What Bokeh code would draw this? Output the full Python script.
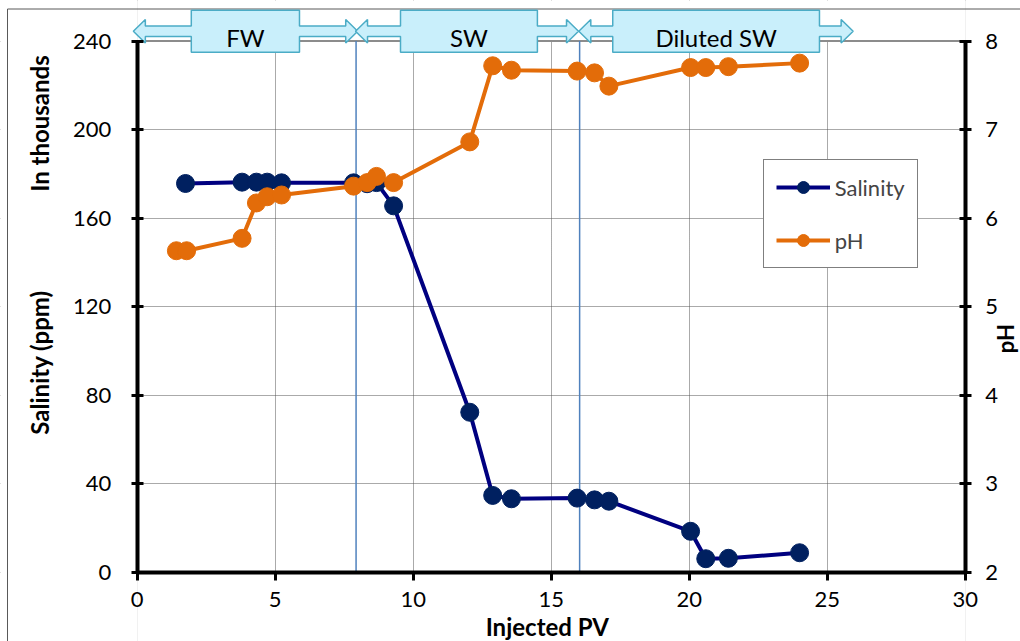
import math
from bokeh.plotting import figure
from bokeh.models import Range1d, LinearAxis, FixedTicker
from bokeh.embed import file_html
from bokeh.resources import INLINE
from bokeh.core.properties import value

# ---------------- data ----------------
pv_salinity = [1.75, 3.80, 4.32, 4.71, 5.23, 7.84, 8.33, 8.67, 9.29, 12.05, 12.88,
               13.56, 15.94, 16.57, 17.09, 20.05, 20.60, 21.42, 24.00]
salinity_k = [175.6, 176.2, 176.2, 176.2, 175.9, 175.9, 175.5, 176.0, 165.5, 72.2, 34.6,
              33.1, 33.4, 32.6, 32.0, 18.4, 6.0, 6.2, 8.7]
pv_ph = [1.42, 1.79, 3.80, 4.32, 4.71, 5.23, 7.84, 8.33, 8.67, 9.29, 12.05, 12.88,
         13.56, 15.94, 16.57, 17.09, 20.05, 20.60, 21.42, 24.00]
ph = [5.63, 5.63, 5.77, 6.17, 6.24, 6.26, 6.36, 6.40, 6.47, 6.40, 6.86, 7.72,
      7.67, 7.66, 7.64, 7.49, 7.70, 7.70, 7.71, 7.75]

phases = ["FW", "SW", "Diluted SW"]
phase_start = [-0.14, 7.91, 16.00]
phase_end = [7.99, 15.99, 25.94]
box_left = [1.96, 9.54, 17.23]
box_right = [5.88, 14.50, 24.72]
boundaries = [7.93, 16.03]

x_ticks = [0, 5, 10, 15, 20, 25, 30]
sal_ticks = [0, 40, 80, 120, 160, 200, 240]
ph_ticks = [2, 3, 4, 5, 6, 7, 8]

# ---------------- layout / styles ----------------
W, H = 1020, 641
X0_PX, X_PER = 136.7, 27.6          # screen x of PV=0, px per PV unit
Y0_PX, Y_PER = 571.5, 2.2125        # screen y of salinity 0, px per salinity unit
x_lo = -X0_PX / X_PER
x_hi = x_lo + W / X_PER
y_hi = Y0_PX / Y_PER
y_lo = y_hi - H / Y_PER
PH_PER = 40.0                       # salinity units per pH unit (2..8 <-> 0..240)

FONT = "Lato"
NAVY_LINE = "#000080"
NAVY_MARK = "#002060"
ORANGE = "#E36C09"
ARROW_FILL = "#C9EFFB"
ARROW_LINE = "#4BACC6"

p = figure(width=W, height=H, x_range=Range1d(x_lo, x_hi), y_range=Range1d(y_lo, y_hi),
           output_backend="svg", toolbar_location=None, x_axis_location=None,
           y_axis_location=None, min_border=0)
p.min_border_left = p.min_border_right = p.min_border_top = p.min_border_bottom = 0
p.outline_line_color = None
p.background_fill_color = "white"
p.border_fill_color = "white"
p.extra_y_ranges = {"ph": Range1d(2 + y_lo / PH_PER, 2 + y_hi / PH_PER)}


def style_axis(ax, t_in, t_out, standoff):
    ax.axis_line_width = 4
    ax.axis_line_color = "black"
    ax.major_tick_in = t_in
    ax.major_tick_out = t_out
    ax.major_tick_line_width = 3
    ax.major_tick_line_color = "black"
    ax.minor_tick_line_color = None
    ax.major_label_text_font = FONT
    ax.major_label_text_font_size = "22px"
    ax.major_label_text_color = "black"
    ax.major_label_standoff = standoff


xax = LinearAxis(fixed_location=sal_ticks[0], bounds=(x_ticks[0], x_ticks[-1]),
                 ticker=FixedTicker(ticks=x_ticks))
style_axis(xax, 0, 8, 12)
p.add_layout(xax, "below")

yax = LinearAxis(fixed_location=x_ticks[0], bounds=(sal_ticks[0], sal_ticks[-1]),
                 ticker=FixedTicker(ticks=sal_ticks))
style_axis(yax, 6, 6, 20)
p.add_layout(yax, "left")

rax = LinearAxis(y_range_name="ph", fixed_location=x_ticks[-1], bounds=(ph_ticks[0], ph_ticks[-1]),
                 ticker=FixedTicker(ticks=ph_ticks))
style_axis(rax, 6, 6, 14)
p.add_layout(rax, "right")

# grids (dotted), trimmed to the plot area by white covers below
p.xgrid.ticker = FixedTicker(ticks=x_ticks)
p.ygrid.ticker = FixedTicker(ticks=sal_ticks)
for g in (p.xgrid, p.ygrid):
    g.grid_line_color = "#555555"
    g.grid_line_dash = "1 1"
    g.grid_line_width = 1

x_a, x_b = x_ticks[0], x_ticks[-1]
s_a, s_b = sal_ticks[0], sal_ticks[-1]
p.quad(left=[x_lo, x_b, x_a, x_a], right=[x_a, x_hi, x_b, x_b],
       bottom=[y_lo, y_lo, s_b, y_lo], top=[y_hi, y_hi, y_hi, s_a],
       fill_color="white", line_color=None)

# chart-area border (top and left edges visible)
bx = (7 - X0_PX) / X_PER
by = (Y0_PX - 8.5) / Y_PER
p.segment(x0=[bx, bx], y0=[by, by], x1=[x_hi, bx], y1=[by, y_lo],
          line_color="#595959", line_width=1)

# top border of plot area
p.segment(x0=[x_a], y0=[s_b], x1=[x_b], y1=[s_b], line_color="#8C8C8C", line_width=2)

# phase boundaries
p.segment(x0=boundaries, y0=[s_a] * len(boundaries), x1=boundaries, y1=[s_b] * len(boundaries),
          line_color="#4F81BD", line_width=1.5)

# series
p.line(pv_salinity, salinity_k, line_color=NAVY_LINE, line_width=4, legend_label="Salinity")
p.scatter(pv_salinity, salinity_k, size=18, fill_color=NAVY_MARK, line_color=NAVY_MARK,
          legend_label="Salinity")
p.line(pv_ph, ph, y_range_name="ph", line_color=ORANGE, line_width=4, legend_label="pH")
p.scatter(pv_ph, ph, y_range_name="ph", size=18, fill_color=ORANGE, line_color=ORANGE,
          legend_label="pH")

# phase arrows (left-right arrow callouts)
c = 244.4
hs, hh, hl, bh = 2.35, 5.3, 0.435, 9.45
xs, ys = [], []
for x0, x1, bl, br in zip(phase_start, phase_end, box_left, box_right):
    xs.append([x0, x0 + hl, x0 + hl, bl, bl, br, br, x1 - hl, x1 - hl, x1,
               x1 - hl, x1 - hl, br, br, bl, bl, x0 + hl, x0 + hl])
    ys.append([c, c + hh, c + hs, c + hs, c + bh, c + bh, c + hs, c + hs, c + hh, c,
               c - hh, c - hs, c - hs, c - bh, c - bh, c - hs, c - hs, c - hh])
p.patches(xs, ys, fill_color=ARROW_FILL, line_color=ARROW_LINE, line_width=1.5)
p.text(x=[(a + b) / 2 for a, b in zip(box_left, box_right)], y=[241.6] * len(phases),
       text=phases, text_align="center", text_baseline="middle",
       text_font=value(FONT), text_font_size="24px", text_color="black")

# axis titles
titles = ["In thousands", "Salinity (ppm)", "Injected PV", "pH"]
title_x = [-3.54, -3.54, 14.86, 31.45]
title_y = [202.7, 94.7, -24.6, 105.5]
title_angle = [math.pi / 2, math.pi / 2, 0.0, math.pi / 2]
title_size = ["24px", "24px", "24px", "22px"]
for t, tx, ty, ta, tsz in zip(titles, title_x, title_y, title_angle, title_size):
    p.text(x=[tx], y=[ty], text=[t], angle=ta, text_align="center", text_baseline="middle",
           text_font=value(FONT), text_font_size=tsz, text_font_style="bold",
           text_color="black")

# legend
lg = p.legend[0]
lg.location = (762.7, H - 268.3)
lg.border_line_color = "black"
lg.border_line_width = 1
lg.background_fill_color = "white"
lg.background_fill_alpha = 1
lg.label_text_font = FONT
lg.label_text_font_size = "22px"
lg.glyph_width = 54
lg.glyph_height = 30
lg.label_height = 30
lg.spacing = 23
lg.padding = 12
lg.margin = 0
lg.label_standoff = 5

open("out.html", "w").write(file_html(p, INLINE))
